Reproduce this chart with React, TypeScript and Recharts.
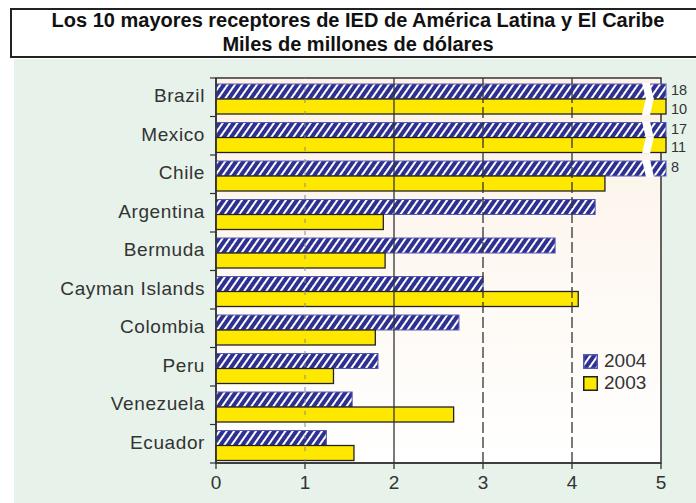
import React from 'react';
import { BarChart, Bar, XAxis, YAxis, ReferenceLine, ReferenceArea } from 'recharts';

const countries = ['Brazil', 'Mexico', 'Chile', 'Argentina', 'Bermuda', 'Cayman Islands', 'Colombia', 'Peru', 'Venezuela', 'Ecuador'];
const ied2004 = [18, 17, 8, 4.26, 3.81, 3.0, 2.73, 1.82, 1.53, 1.24];
const ied2003 = [10, 11, 4.37, 1.88, 1.9, 4.07, 1.79, 1.32, 2.67, 1.55];
const xTicks = [0, 1, 2, 3, 4, 5];
const AXIS_MAX = 5;

const data = countries.map((name, i) => ({ name, y2004: ied2004[i], y2003: ied2003[i] }));

const FONT = '"Liberation Sans", Arial, sans-serif';
const TEXT = '#333';

// bars over the axis max get cut with a white break and their real value written next to them
const makeBar = (key: 'y2004' | 'y2003', fill: string, stroke: string, sw: number, upper: boolean) => (props: any) => {
  const { x, y, width, height, payload } = props;
  const real = payload[key];
  const by = y + 2;
  if (real <= AXIS_MAX) {
    return <rect x={x} y={by} width={width} height={height} fill={fill} stroke={stroke} strokeWidth={sw} />;
  }
  const w = width + 5;
  const gx = x + width - 15;
  const gap = upper
    ? `M${gx - 4},${by - 1} L${gx + 4},${by - 1} L${gx + 8},${by + height + 1} L${gx},${by + height + 1} Z`
    : `M${gx},${by - 1} L${gx + 8},${by - 1} L${gx + 4},${by + height + 1} L${gx - 4},${by + height + 1} Z`;
  return (
    <g>
      <rect x={x} y={by} width={w} height={height} fill={fill} stroke={stroke} strokeWidth={sw} />
      <path d={gap} fill="#fff" />
      <text x={x + w + 5} y={by + height / 2 + (upper ? -1.5 : 2)} dy="0.36em" fontSize={14.5} fill={TEXT} fontFamily={FONT}>{real}</text>
    </g>
  );
};

const CountryTick = (props: any) => {
  const { x, y, payload, index } = props;
  const off = payload.offset || 19.25;
  return (
    <g>
      <line x1={x + 5} x2={x + 11} y1={y - off} y2={y - off} stroke={TEXT} strokeWidth={1.2} />
      {index === countries.length - 1 && (
        <line x1={x + 5} x2={x + 11} y1={y + off} y2={y + off} stroke={TEXT} strokeWidth={1.2} />
      )}
      <text x={x} y={y - 2} dy="0.36em" textAnchor="end" fontSize={19} letterSpacing={0.6} fill={TEXT} fontFamily={FONT}>{payload.value}</text>
    </g>
  );
};

const Swatch = ({ fill, stroke }: { fill: string; stroke: string }) => (
  <svg width={15} height={15} style={{ display: 'block' }}>
    <rect x={0.75} y={0.75} width={13.5} height={13.5} fill={fill} stroke={stroke} strokeWidth={1.5} />
  </svg>
);

export default function App() {
  return (
    <div style={{ position: 'absolute', left: 0, top: 0, width: 696, height: 503, background: '#fff', overflow: 'hidden', fontFamily: FONT }}>
      <div style={{ position: 'absolute', left: 14, top: 59, width: 682, height: 444, background: '#e6f2ea' }} />
      <div style={{ position: 'absolute', left: 10, top: 8, width: 692, height: 46, border: '2px solid #222', background: '#fff', textAlign: 'center', fontWeight: 'bold', fontSize: 20, color: '#111', lineHeight: '24px' }}>
        <div style={{ marginTop: -2 }}>Los 10 mayores receptores de IED de América Latina y El Caribe</div>
        <div>Miles de millones de dólares</div>
      </div>
      <div style={{ position: 'absolute', left: 0, top: 0 }}>
        <BarChart width={696} height={503} data={data} layout="vertical" barSize={15} barGap={0}
          margin={{ top: 78, right: 35, bottom: 10, left: 0 }}>
          <defs>
            <pattern id="hatch" width="6" height="6" patternUnits="userSpaceOnUse" patternTransform="rotate(35)">
              <rect width="6" height="6" fill="#2e3192" />
              <rect x="0" y="0" width="2" height="6" fill="#fff" />
            </pattern>
            <linearGradient id="plotBg" x1="0" y1="0" x2="0" y2="1">
              <stop offset="0%" stopColor="#fcf2e6" />
              <stop offset="100%" stopColor="#ffffff" />
            </linearGradient>
          </defs>
          <ReferenceArea x1={0} x2={5} fill="url(#plotBg)" fillOpacity={1} stroke={TEXT} strokeWidth={1.5} />
          <ReferenceLine x={1} stroke="#888" strokeDasharray="4 8" />
          <ReferenceLine x={2} stroke={TEXT} strokeWidth={1.3} />
          <ReferenceLine x={3} stroke={TEXT} strokeDasharray="11 4" strokeWidth={1.3} />
          <ReferenceLine x={4} stroke={TEXT} strokeDasharray="11 4" strokeWidth={1.3} />
          <XAxis type="number" domain={[0, AXIS_MAX]} ticks={xTicks} height={30} tickSize={6} tickMargin={7}
            axisLine={{ stroke: TEXT, strokeWidth: 1.5 }} tickLine={{ stroke: TEXT, strokeWidth: 1.3 }}
            tick={{ fill: TEXT, fontSize: 19, fontFamily: FONT }} />
          <YAxis type="category" dataKey="name" width={216} tickSize={6} tickMargin={5} tickLine={false}
            axisLine={{ stroke: TEXT, strokeWidth: 1.5 }} tick={<CountryTick />} interval={0} />
          <Bar dataKey={(d: any) => Math.min(d.y2004, AXIS_MAX)} name="2004" isAnimationActive={false}
            shape={makeBar('y2004', 'url(#hatch)', '#5558b5', 1, true)} />
          <Bar dataKey={(d: any) => Math.min(d.y2003, AXIS_MAX)} name="2003" isAnimationActive={false}
            shape={makeBar('y2003', '#ffe800', '#222', 1.3, false)} />
        </BarChart>
      </div>
      <div style={{ position: 'absolute', left: 583, top: 350, fontSize: 19, color: TEXT, lineHeight: '22px' }}>
        <div style={{ display: 'flex', alignItems: 'center', gap: 6 }}>
          <Swatch fill="url(#hatch)" stroke="#5558b5" />
          <span>2004</span>
        </div>
        <div style={{ display: 'flex', alignItems: 'center', gap: 6 }}>
          <Swatch fill="#ffe800" stroke="#222" />
          <span>2003</span>
        </div>
      </div>
    </div>
  );
}
